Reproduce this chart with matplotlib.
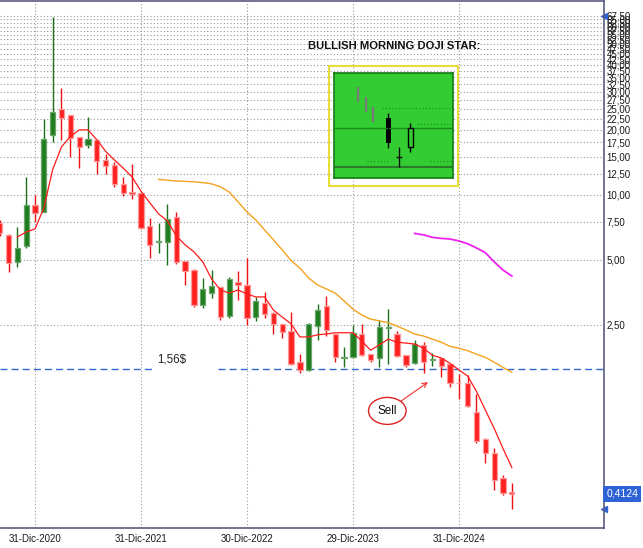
import matplotlib
matplotlib.use("Agg")
import matplotlib.pyplot as plt
import matplotlib.patches as mpatches
import matplotlib.transforms as mtransforms
import numpy as np

plt.rcParams['font.family'] = ['Liberation Sans', 'DejaVu Sans']

# candele mensili, ago-2020 .. giu-2025
apertura = [7.42, 6.53, 4.9, 5.8, 9.0, 8.34, 19.0, 25.0, 23.5, 18.6,
            17.1, 18.0, 14.5, 13.75, 11.2, 10.28, 10.17, 7.18, 6.06, 6.06,
            7.9, 4.95, 4.49, 3.09, 3.51, 3.75, 2.75, 3.95, 3.83, 2.72,
            3.16, 2.84, 2.53, 2.35, 1.68, 1.55, 2.47, 3.06, 2.27, 1.76,
            1.77, 2.27, 1.83, 1.76, 2.42, 2.27, 1.81, 1.66, 2.02, 1.72,
            1.76, 1.65, 1.35, 1.35, 0.99, 0.74, 0.64, 0.49, 0.42]
massimo = [7.66, 6.6, 7.1, 12.1, 10.0, 22.5, 66.7, 31.3, 23.5, 18.6,
           23.0, 18.0, 15.4, 14.2, 12.1, 13.9, 10.3, 7.82, 7.42, 9.1,
           8.34, 4.95, 4.54, 4.12, 4.49, 3.75, 4.17, 4.44, 5.12, 3.37,
           3.55, 2.87, 2.53, 2.87, 1.83, 2.56, 3.12, 3.4, 2.27, 1.97,
           2.5, 2.53, 1.83, 2.64, 2.96, 2.35, 1.81, 2.13, 2.08, 1.85,
           1.76, 1.65, 1.48, 1.47, 1.2, 0.748, 0.67, 0.505, 0.464]
minimo = [6.46, 4.4, 4.64, 5.68, 7.5, 8.34, 17.6, 18.0, 15.0, 13.3,
          16.4, 12.55, 12.55, 10.9, 9.89, 9.58, 6.96, 5.12, 5.4, 4.74,
          4.79, 3.83, 3.03, 2.99, 3.33, 2.64, 2.69, 3.26, 2.5, 2.61,
          2.69, 2.27, 2.18, 1.63, 1.5, 1.53, 2.13, 2.22, 1.68, 1.59,
          1.76, 1.79, 1.68, 1.59, 1.65, 1.77, 1.59, 1.65, 1.5, 1.61,
          1.43, 1.29, 1.14, 1.04, 0.709, 0.575, 0.43, 0.408, 0.35]
chiusura = [6.67, 4.84, 5.68, 9.0, 8.25, 18.2, 24.3, 22.8, 18.4, 16.7,
            18.2, 14.35, 13.6, 11.2, 10.17, 10.06, 7.03, 5.87, 6.12, 7.74,
            4.9, 4.44, 3.09, 3.67, 3.79, 2.72, 4.08, 3.83, 2.69, 3.23,
            2.81, 2.53, 2.32, 1.65, 1.55, 2.53, 2.93, 2.37, 1.77, 1.77,
            2.30, 1.81, 1.72, 2.45, 2.45, 1.79, 1.63, 2.04, 1.68, 1.74,
            1.61, 1.34, 1.34, 1.05, 0.724, 0.64, 0.479, 0.415, 0.4124]

# medie mobili
media_breve = [np.nan] * 2 + [
    6.39, 6.73, 6.96, 8.7, 13.1, 16.7, 18.6, 20.0, 20.0, 18.0,
    15.9, 14.5, 13.3, 12.1, 10.4, 9.2, 8.16, 7.58, 6.46, 5.87,
    5.45, 4.9, 4.08, 3.63, 3.51, 3.63, 3.48, 3.37, 3.37, 2.93,
    2.72, 2.53, 2.2, 2.2, 2.25, 2.27, 2.30, 2.30, 2.30, 2.11,
    1.91, 2.02, 2.15, 2.08, 2.06, 2.04, 1.95, 1.81, 1.76, 1.66,
    1.55, 1.45, 1.23, 1.01, 0.83, 0.67, 0.547]
media_media = [np.nan] * 18 + [
    11.8, 11.7, 11.6, 11.55, 11.5, 11.4, 11.25, 10.9, 10.3, 9.28,
    8.34, 7.66, 6.89, 6.19, 5.56, 4.97, 4.58, 4.12, 3.83, 3.67,
    3.51, 3.23, 2.96, 2.78, 2.66, 2.61, 2.56, 2.47, 2.37, 2.27,
    2.22, 2.15, 2.08, 1.99, 1.95, 1.9, 1.83, 1.77, 1.68, 1.59, 1.51]
media_lunga = [np.nan] * 47 + [
    6.63, 6.53, 6.36, 6.29, 6.25, 6.12, 5.94, 5.68, 5.4, 4.9, 4.49, 4.21]

date_pos = [5, 17, 29, 41, 53]
date_etichette = ['31-Dic-2020', '31-Dic-2021', '30-Dic-2022', '29-Dic-2023', '31-Dic-2024']
livello = 1.56
ultimo = 0.4124

# candele dell'esempio nel riquadro
es_pos = [24, 31.5, 39]
es_basso = [76, 66, 56]
es_alto = [91, 81, 71]

fig = plt.figure(figsize=(6.43, 5.48), dpi=100)
ax = fig.add_axes([0, 20 / 548, 604 / 643, 527 / 548])

x = np.arange(1, len(chiusura) + 1)
o = np.array(apertura)
c = np.array(chiusura)
su = c >= o
for mask, corpo, bordo, stoppino in [(su, '#1f7d1f', '#6aa66a', '#1a6f1a'),
                                     (~su, '#ff2020', '#ff9a9a', '#ee1111')]:
    ax.vlines(x[mask], np.array(minimo)[mask], np.array(massimo)[mask],
              color=stoppino, lw=1.0, zorder=2)
    basso = np.minimum(o, c)[mask]
    alto = np.maximum(o, c)[mask]
    ax.bar(x[mask], alto - basso, bottom=basso, width=0.6, color=corpo,
           edgecolor=bordo, linewidth=0.9, zorder=3)

ax.plot(x, media_breve, color='#ff1a1a', lw=0.9, zorder=4)
ax.plot(x, media_media, color='#f5a21e', lw=1.0, zorder=4)
ax.plot(x, media_lunga, color='#ee22ee', lw=1.3, zorder=4)

# linea 1,56$
bordo_tr = mtransforms.blended_transform_factory(ax.transAxes, ax.transData)
ax.plot([0, 153 / 604], [livello, livello], transform=bordo_tr,
        color='#3566cc', lw=1.0, dashes=(5, 3), zorder=1)
ax.plot([218 / 604, 1], [livello, livello], transform=bordo_tr,
        color='#3566cc', lw=1.0, dashes=(5, 3), zorder=1)
ax.annotate('1,56$', xy=(20.5, livello), xytext=(0, 3), textcoords='offset points',
            ha='center', va='bottom', fontsize=8.3, color='#222222')

ax.annotate('Sell', xy=(49.5, 1.36), xytext=(44.9, 1.0), ha='center', va='center',
            fontsize=8.5, color='#111111',
            bbox=dict(boxstyle='ellipse,pad=0.3', fc='white', ec='#dd2222', lw=1.0),
            arrowprops=dict(arrowstyle='->', color='#ee3333', lw=0.8, shrinkA=0, shrinkB=0))

ax.set_yscale('log')
ax.set_ylim(0.287, 79)
ax.set_xlim(1.036, 69.44)

tick_y = np.arange(1, 28) * 2.5
ax.set_yticks(tick_y)
ax.set_yticklabels([('%.2f' % t).replace('.', ',') for t in tick_y])
ax.yaxis.set_minor_locator(matplotlib.ticker.NullLocator())
ax.yaxis.tick_right()
ax.tick_params(axis='y', length=0, pad=2, labelsize=7, labelcolor='#1a1a1a')
ax.set_xticks(date_pos)
ax.set_xticklabels(date_etichette)
ax.tick_params(axis='x', length=0, pad=4, labelsize=7, labelcolor='#1a1a1a')
ax.grid(True, color='#9a9a9a', lw=0.8, linestyle=(0, (1, 2)))
ax.set_axisbelow(True)

for s in ['top', 'bottom', 'right']:
    ax.spines[s].set_color('#5a5a82')
    ax.spines[s].set_linewidth(1.2)
ax.spines['left'].set_visible(False)

ax.text(1.004, ultimo, ('%.4f' % ultimo).replace('.', ','), transform=bordo_tr,
        va='center', ha='left', color='white', fontsize=7.5,
        bbox=dict(boxstyle='square,pad=0.3', fc='#2d63d4', ec='none'))
ax.plot([1.0], [min(minimo)], marker='<', ms=5, color='#2d63d4', transform=bordo_tr, clip_on=False)
ax.plot([1.0], [tick_y[-1]], marker='<', ms=5, color='#2d63d4', transform=bordo_tr, clip_on=False)

# riquadro esempio
fig.text(308 / 643, 1 - 46 / 548, 'BULLISH MORNING DOJI STAR:', fontsize=8.1,
         fontweight='bold', va='center', ha='left', color='#111111')
fig.add_artist(mpatches.Rectangle((329 / 643, 1 - 186 / 548), 129 / 643, 120 / 548,
                                  transform=fig.transFigure, fill=False,
                                  ec='#e8dc3a', lw=1.5))
ins = fig.add_axes([334 / 643, 1 - 178 / 548, 119 / 643, 105 / 548])
ins.set_facecolor('#33cc33')
ins.set_xlim(0, 119)
ins.set_ylim(0, 105)
ins.set_xticks([])
ins.set_yticks([])
for s in ins.spines.values():
    s.set_color('#137a13')
    s.set_linewidth(1.2)
ins.axhline(50, color='#1a8a1a', lw=1.0)
ins.axhline(11, color='#2a7a2a', lw=1.5)
ins.plot([48, 118], [70, 70], color='#1a8a1a', lw=0.8, linestyle=(0, (1, 2)))
ins.plot([83, 117], [54, 54], color='#1a8a1a', lw=0.8, linestyle=(0, (1, 2)))
ins.plot([33, 56], [17, 17], color='#1a8a1a', lw=0.8, linestyle=(0, (1, 2)))
ins.plot([96, 117], [17, 17], color='#1a8a1a', lw=0.8, linestyle=(0, (1, 2)))
ins.vlines(es_pos, es_basso, es_alto, color='#7a7a7a', lw=1.6)
ins.vlines(54, 30, 65, color='black', lw=1.0)
ins.bar(54, 25, bottom=35, width=5, color='black')
ins.vlines(65, 11, 31, color='#111111', lw=1.0)
ins.hlines(21, 62, 68, color='#111111', lw=1.0)
ins.vlines(76, 26, 55, color='black', lw=1.0)
ins.bar(76, 19, bottom=31, width=5, color='#33cc33', edgecolor='black', lw=1.0, zorder=3)

fig.savefig('out.png', dpi=100)
